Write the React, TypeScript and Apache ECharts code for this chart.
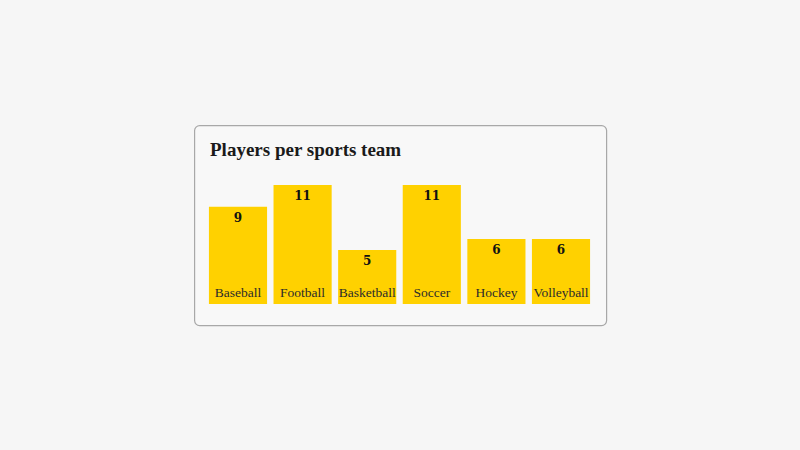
import React, { useEffect, useRef } from 'react';
import * as echarts from 'echarts';

const sports = ['Baseball', 'Football', 'Basketball', 'Soccer', 'Hockey', 'Volleyball'];
const players = [9, 11, 5, 11, 6, 6];

const App: React.FC = () => {
  const chartRef = useRef<HTMLDivElement>(null);

  useEffect(() => {
    if (!chartRef.current) return;
    const chart = echarts.init(chartRef.current, undefined, { renderer: 'svg' });

    const options: echarts.EChartsOption = {
      animation: false,
      backgroundColor: '#f6f6f6',
      graphic: [
        {
          type: 'rect',
          left: 194,
          top: 125,
          shape: { width: 412, height: 200, r: 5 },
          style: { fill: '#f8f8f8', stroke: '#a8a8a8', lineWidth: 1.2 },
          z: -10
        }
      ],
      title: {
        text: 'Players per sports team',
        left: 210,
        top: 140,
        padding: 0,
        textStyle: {
          fontFamily: 'Liberation Serif',
          fontWeight: 'bold',
          fontSize: 19,
          color: '#1a1a1a'
        }
      },
      grid: {
        left: 205.7,
        top: 185,
        width: 387.6,
        height: 119
      },
      xAxis: {
        type: 'category',
        data: sports,
        z: 10,
        axisLine: { show: false },
        axisTick: { show: false },
        axisLabel: {
          inside: true,
          interval: 0,
          margin: 5,
          verticalAlign: 'bottom',
          fontFamily: 'Liberation Serif',
          fontSize: 13.5,
          color: '#2b2b2b'
        }
      },
      yAxis: {
        type: 'value',
        min: 0,
        max: 11,
        show: false,
        splitLine: { show: false }
      },
      series: [
        {
          type: 'bar',
          data: players,
          barCategoryGap: '10%',
          itemStyle: { color: '#ffd100' },
          label: {
            show: true,
            position: 'insideTop',
            distance: 5,
            fontFamily: 'DejaVu Serif',
            fontWeight: 'bold',
            fontSize: 12,
            color: '#111'
          }
        }
      ]
    };

    chart.setOption(options);

    return () => {
      chart.dispose();
    };
  }, []);

  return (
    <div style={{ position: 'fixed', left: 0, top: 0, width: 800, height: 450 }}>
      <div ref={chartRef} style={{ width: 800, height: 450 }} />
    </div>
  );
};

export default App;
